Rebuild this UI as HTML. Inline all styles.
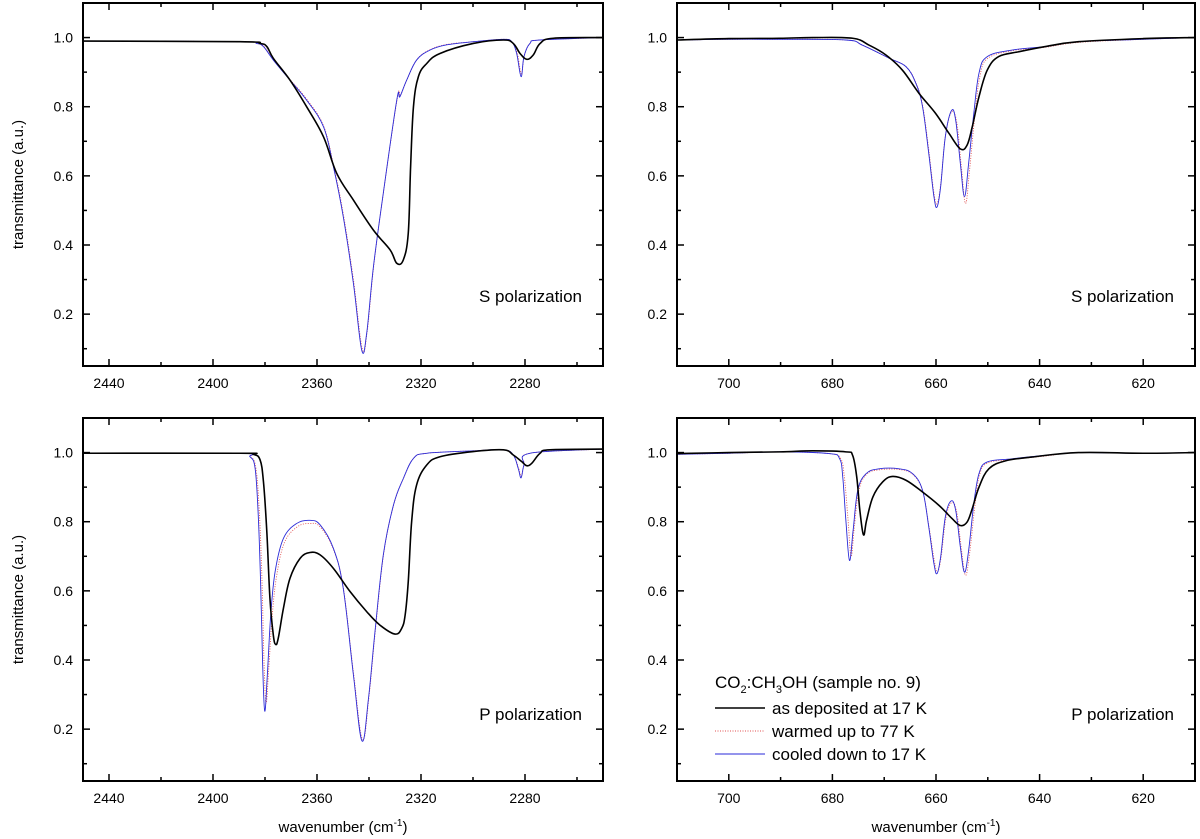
<!DOCTYPE html>
<html><head><meta charset="utf-8"><style>
body{margin:0;background:#fff;}
svg{display:block;font-family:"Liberation Sans",Arial,sans-serif;}
</style></head><body>
<svg id="fig" width="1200" height="839" viewBox="0 0 1200 839" xmlns="http://www.w3.org/2000/svg"></svg>
<script>
// ---- Data ----
const tlBlackW=[2450,2389.6,2381.9,2379.3,2376.8,2370.4,2364.0,2357.5,2352.4,2346.0,2338.3,2331.9,2329.3,2326.8,2324.9,2324.0,2322.9,2321.0,2317.8,2312.7,2299.9,2288.3,2284.5,2281.9,2279.3,2276.8,2274.2,2269.1,2250];
const tlBlackV=[0.99,0.988,0.983,0.974,0.94,0.877,0.80,0.713,0.607,0.530,0.443,0.386,0.347,0.357,0.434,0.626,0.80,0.887,0.925,0.954,0.983,0.993,0.983,0.954,0.937,0.95,0.983,0.998,1.0];
const tlBlueW=[2450,2389.6,2383.2,2380.6,2376.8,2370.4,2364.0,2357.5,2353.7,2349.9,2346.0,2342.8,2340.9,2338.3,2334.5,2329.3,2328.1,2325.5,2321.7,2316.5,2310.1,2299.9,2288.3,2285.1,2283.2,2281.5,2280.4,2278.1,2274.2,2250];
const tlBlueV=[0.99,0.988,0.983,0.974,0.935,0.877,0.819,0.742,0.627,0.482,0.289,0.096,0.144,0.337,0.55,0.82,0.829,0.877,0.935,0.964,0.979,0.988,0.995,0.988,0.954,0.887,0.945,0.983,0.993,1.0];
const tlRedW=[2450,2389.6,2383.2,2380.6,2376.8,2370.4,2364.0,2357.5,2353.7,2349.9,2346.0,2342.6,2340.7,2338.1,2334.3,2329.1,2327.9,2325.3,2321.5,2316.5,2310.1,2299.9,2288.3,2285.1,2283.0,2281.4,2280.3,2278.1,2274.2,2250];
const tlRedV=[0.99,0.988,0.983,0.976,0.937,0.879,0.822,0.745,0.632,0.49,0.30,0.10,0.15,0.345,0.56,0.825,0.833,0.88,0.937,0.965,0.98,0.988,0.995,0.988,0.955,0.895,0.947,0.983,0.993,1.0];

const blBlackW=[2450,2389.6,2384.5,2381.9,2380.6,2379.3,2378.1,2376.8,2375.9,2374.9,2372.9,2370.4,2366.5,2362.7,2358.8,2353.7,2347.3,2340.9,2335.8,2330.0,2327.4,2326.1,2324.9,2323.6,2321.7,2317.8,2312.7,2299.9,2288.3,2284.5,2281.3,2279.3,2277.4,2274.2,2270.4,2250];
const blBlackV=[0.998,0.998,0.995,0.979,0.916,0.771,0.578,0.472,0.445,0.463,0.55,0.636,0.694,0.711,0.704,0.665,0.598,0.54,0.501,0.475,0.492,0.53,0.627,0.80,0.906,0.964,0.988,1.003,1.008,0.993,0.974,0.962,0.969,0.998,1.008,1.01];
const blBlueW=[2450,2389.6,2385.8,2383.8,2382.6,2381.7,2380.9,2380.1,2379.1,2377.8,2376.1,2372.9,2367.8,2362.7,2358.8,2353.7,2349.9,2346.0,2342.7,2340.2,2337.7,2334.5,2330.6,2326.8,2322.9,2317.8,2299.9,2288.3,2284.5,2282.6,2281.5,2280.4,2278.1,2250];
const blBlueV=[0.998,0.998,0.988,0.954,0.819,0.627,0.386,0.252,0.357,0.53,0.656,0.752,0.795,0.804,0.791,0.723,0.607,0.357,0.166,0.289,0.482,0.704,0.848,0.925,0.983,0.998,1.005,1.008,0.993,0.954,0.927,0.964,0.998,1.01];
const blRedW=[2450,2389.6,2385.6,2383.5,2382.2,2381.2,2380.4,2379.6,2378.6,2377.3,2375.6,2372.5,2367.6,2362.7,2358.8,2353.7,2349.9,2346.0,2342.5,2340.0,2337.5,2334.3,2330.4,2326.6,2322.9,2317.8,2299.9,2288.3,2284.5,2282.5,2281.4,2280.3,2278.1,2250];
const blRedV=[0.998,0.998,0.988,0.955,0.83,0.64,0.40,0.275,0.37,0.52,0.64,0.74,0.785,0.795,0.785,0.72,0.61,0.365,0.17,0.295,0.49,0.71,0.852,0.928,0.983,0.998,1.005,1.008,0.993,0.956,0.932,0.965,0.998,1.01];

const trBlackW=[710,700,690.2,683.8,676.1,672.9,669.7,666.5,663.3,660.1,657.5,655.3,654.0,653.0,651.7,650.1,647.9,644.0,638.9,632.5,620,610];
const trBlackV=[0.993,0.997,0.998,1.0,0.998,0.978,0.95,0.906,0.839,0.781,0.723,0.678,0.689,0.742,0.829,0.906,0.945,0.959,0.974,0.988,0.997,1.0];
const trBlueW=[710,700,690.2,677.4,674.2,669.0,665.8,663.9,662.6,661.4,660.4,659.8,659.1,658.2,657.0,656.2,655.3,654.5,653.7,652.7,651.7,650.1,645.3,638.9,632.5,620,610];
const trBlueV=[0.993,0.995,0.995,0.993,0.978,0.940,0.916,0.868,0.80,0.665,0.540,0.51,0.569,0.713,0.789,0.761,0.636,0.54,0.636,0.781,0.897,0.945,0.964,0.974,0.988,0.995,1.0];
const trRedW=[710,700,690.2,677.4,674.2,669.0,665.8,663.9,662.6,661.4,660.4,659.8,659.1,658.2,657.0,656.0,655.1,654.3,653.5,652.5,651.5,650.0,645.3,638.9,632.5,620,610];
const trRedV=[0.993,0.995,0.995,0.993,0.978,0.940,0.916,0.870,0.805,0.675,0.55,0.52,0.575,0.715,0.785,0.755,0.625,0.52,0.62,0.775,0.89,0.94,0.962,0.972,0.986,0.995,1.0];

const brBlackW=[710,700,690.2,683.8,677.4,676.1,675.3,674.7,674.0,673.4,672.2,670.3,668.4,665.8,662.6,659.4,656.9,655.3,654.0,653.0,651.7,649.8,646.6,641.5,632.5,620,610];
const brBlackV=[0.997,1.0,1.002,1.005,1.002,0.992,0.929,0.833,0.762,0.804,0.871,0.915,0.931,0.92,0.886,0.847,0.809,0.789,0.799,0.838,0.90,0.953,0.976,0.987,1.0,0.998,1.0];
const brBlueW=[710,700,690.2,680.6,678.6,678.0,677.4,676.7,676.0,675.1,673.5,671.0,667.1,664.5,662.6,661.4,660.4,659.8,659.1,658.2,657.1,656.2,655.3,654.5,653.7,652.7,651.7,650.1,645.3,638.9,632.5,620,610];
const brBlueV=[0.995,0.998,1.002,0.997,0.982,0.929,0.804,0.688,0.775,0.891,0.939,0.953,0.953,0.939,0.891,0.785,0.679,0.65,0.698,0.814,0.86,0.833,0.727,0.654,0.717,0.852,0.939,0.973,0.982,0.992,1.0,0.998,1.0];
const brRedW=[710,700,690.2,680.6,678.4,677.7,677.0,676.4,675.8,674.9,673.4,671.0,667.1,664.5,662.6,661.4,660.3,659.7,659.0,658.1,657.0,656.0,655.1,654.3,653.5,652.5,651.6,650.0,645.3,638.9,632.5,620,610];
const brRedV=[0.995,0.998,1.002,0.997,0.982,0.93,0.81,0.70,0.78,0.89,0.937,0.95,0.951,0.937,0.89,0.79,0.685,0.655,0.70,0.81,0.855,0.828,0.72,0.645,0.71,0.845,0.935,0.97,0.98,0.99,1.0,0.998,1.0];

const leftTicks=[2440,2400,2360,2320,2280];
const leftMinor=[2420,2380,2340,2300,2260];
const rightTicks=[700,680,660,640,620];
const rightMinor=[690,670,650,630];
const yTicks=[0.2,0.4,0.6,0.8,1.0];
const yMinor=[0.1,0.3,0.5,0.7,0.9,1.1];
const legendLabels=["as deposited at 17 K","warmed up to 77 K","cooled down to 17 K"];

// ---- Drawing ----
const svg=document.getElementById('fig');
const NS='http://www.w3.org/2000/svg';
function mk(tag,attrs,parent){const e=document.createElementNS(NS,tag);for(const k in attrs)e.setAttribute(k,attrs[k]);(parent||svg).appendChild(e);return e;}

function smoothPath(pts){
  let d='M'+pts[0][0].toFixed(2)+','+pts[0][1].toFixed(2);
  for(let i=0;i<pts.length-1;i++){
    const p0=pts[Math.max(0,i-1)],p1=pts[i],p2=pts[i+1],p3=pts[Math.min(pts.length-1,i+2)];
    const t=0.18;
    const c1=[p1[0]+(p2[0]-p0[0])*t,p1[1]+(p2[1]-p0[1])*t];
    const c2=[p2[0]-(p3[0]-p1[0])*t,p2[1]-(p3[1]-p1[1])*t];
    d+=' C'+c1[0].toFixed(2)+','+c1[1].toFixed(2)+' '+c2[0].toFixed(2)+','+c2[1].toFixed(2)+' '+p2[0].toFixed(2)+','+p2[1].toFixed(2);
  }
  return d;
}

function panel(cfg){
  const g=mk('g',{});
  
  
  const L=cfg.x0,R=cfg.x1,T=cfg.y0,B=cfg.y1;
  const xs=w=>L+(cfg.wmax-w)/(cfg.wmax-cfg.wmin)*(R-L);
  const ys=v=>B-(v-0.05)/(1.1-0.05)*(B-T);
  const cg=mk('g',{},g);
  
  
  const series=[[cfg.red,'#e05050','1 1.5',0.9,'red'],[cfg.blue,'#2a2ad8','',0.9,'blue'],[cfg.black,'#000','',1.6,'black']];
  series.forEach(s=>{
    const [W,V]=s[0];
    const pts=W.map((w,i)=>[xs(w),ys(V[i])]);
    const p=mk('path',{d:smoothPath(pts),fill:'none',stroke:s[1],'stroke-width':s[3],'stroke-dasharray':s[2]||'none','clip-path':'url(#clip'+cfg.id+')'},cg);
    
    
  });
  const cp=mk('clipPath',{id:'clip'+cfg.id},g);
  mk('rect',{x:L,y:T,width:R-L,height:B-T},cp);
  const fr=mk('rect',{x:L,y:T,width:R-L,height:B-T,fill:'none',stroke:'#000','stroke-width':2},g);
  
  
  cfg.ticks.forEach(w=>{
    const x=xs(w);
    mk('line',{x1:x,x2:x,y1:B,y2:B-7,stroke:'#000','stroke-width':1.5},g);
    mk('line',{x1:x,x2:x,y1:T,y2:T+7,stroke:'#000','stroke-width':1.5},g);
    const t=mk('text',{x:x,y:B+22,'text-anchor':'middle','font-size':14},g);t.textContent=w;
    
    
  });
  cfg.minor.forEach(w=>{
    const x=xs(w);
    mk('line',{x1:x,x2:x,y1:B,y2:B-4,stroke:'#000','stroke-width':1.5},g);
    mk('line',{x1:x,x2:x,y1:T,y2:T+4,stroke:'#000','stroke-width':1.5},g);
  });
  yTicks.forEach(v=>{
    const y=ys(v);
    mk('line',{x1:L,x2:L+7,y1:y,y2:y,stroke:'#000','stroke-width':1.5},g);
    mk('line',{x1:R,x2:R-7,y1:y,y2:y,stroke:'#000','stroke-width':1.5},g);
    const t=mk('text',{x:L-10,y:y+5,'text-anchor':'end','font-size':14},g);t.textContent=v.toFixed(1);
    
    
  });
  yMinor.forEach(v=>{
    const y=ys(v);
    mk('line',{x1:L,x2:L+4,y1:y,y2:y,stroke:'#000','stroke-width':1.5},g);
    mk('line',{x1:R,x2:R-4,y1:y,y2:y,stroke:'#000','stroke-width':1.5},g);
  });
  const lab=mk('text',{x:R-21,y:cfg.labY,'text-anchor':'end','font-size':17},g);lab.textContent=cfg.label;
  
  
  if(cfg.ylab){
    const cy=(T+B)/2;
    const t=mk('text',{x:18,y:cy,'text-anchor':'middle','font-size':15,transform:'rotate(-90 18 '+cy+')',dy:5},g);t.textContent='transmittance (a.u.)';
    
    
  }
  if(cfg.xlab){
    const t=mk('text',{x:(L+R)/2,y:832,'text-anchor':'middle','font-size':15},g);
    
    
    t.innerHTML='wavenumber (cm<tspan font-size="10" dy="-6">-1</tspan><tspan dy="6">)</tspan>';
  }
}

panel({id:1,name:'top-left-panel',x0:83,x1:603,y0:3,y1:366,wmax:2450,wmin:2250,ticks:leftTicks,minor:leftMinor,black:[tlBlackW,tlBlackV],blue:[tlBlueW,tlBlueV],red:[tlRedW,tlRedV],label:'S polarization',labY:302,ylab:true});
panel({id:2,name:'top-right-panel',x0:677,x1:1195,y0:3,y1:366,wmax:710,wmin:610,ticks:rightTicks,minor:rightMinor,black:[trBlackW,trBlackV],blue:[trBlueW,trBlueV],red:[trRedW,trRedV],label:'S polarization',labY:302});
panel({id:3,name:'bottom-left-panel',x0:83,x1:603,y0:418,y1:781,wmax:2450,wmin:2250,ticks:leftTicks,minor:leftMinor,black:[blBlackW,blBlackV],blue:[blBlueW,blBlueV],red:[blRedW,blRedV],label:'P polarization',labY:720,ylab:true,xlab:true});
panel({id:4,name:'bottom-right-panel',x0:677,x1:1195,y0:418,y1:781,wmax:710,wmin:610,ticks:rightTicks,minor:rightMinor,black:[brBlackW,brBlackV],blue:[brBlueW,brBlueV],red:[brRedW,brRedV],label:'P polarization',labY:720,xlab:true});

// legend
const lg=mk('g',{});


const lt=mk('text',{x:715,y:688,'font-size':17},lg);


lt.innerHTML='CO<tspan font-size="11" dy="5">2</tspan><tspan dy="-5">:CH</tspan><tspan font-size="11" dy="5">3</tspan><tspan dy="-5">OH (sample no. 9)</tspan>';
const lcol=['#000','#e05050','#2a2ad8'],ldash=['none','1 1.5','none'],lw=[1.6,0.9,0.9];
legendLabels.forEach((s,i)=>{
  const y=708+i*23;
  const l=mk('line',{x1:715,x2:765,y1:y,y2:y,stroke:lcol[i],'stroke-width':lw[i],'stroke-dasharray':ldash[i]},lg);
  
  
  const t=mk('text',{x:772,y:y+6,'font-size':17},lg);t.textContent=s;
  
  
});
</script>
</body></html>
